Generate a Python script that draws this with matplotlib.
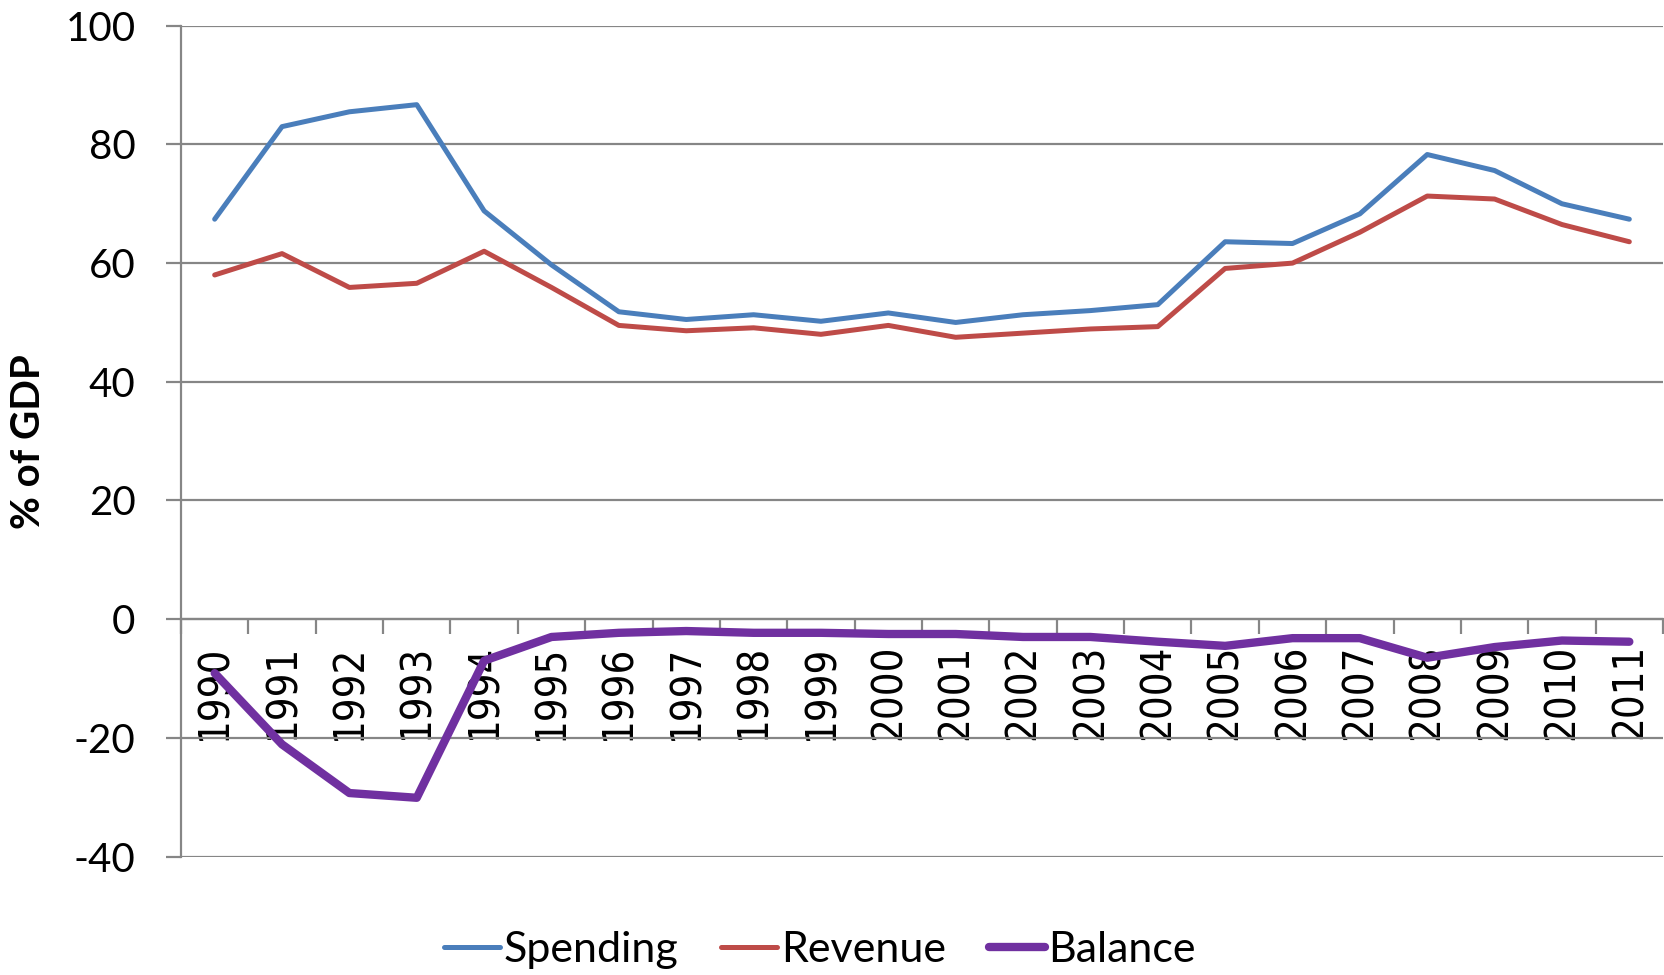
import numpy as np
import matplotlib
matplotlib.use("Agg")
import matplotlib.pyplot as plt

# values (% of GDP)
years = [str(y) for y in range(1990, 2012)]
spending = [67.4, 83.0, 85.5, 86.7, 68.8, 59.7, 51.8, 50.5, 51.3, 50.2, 51.6,
            50.0, 51.3, 52.0, 53.0, 63.6, 63.3, 68.3, 78.3, 75.6, 70.0, 67.4]
revenue = [58.0, 61.6, 55.9, 56.6, 62.0, 55.9, 49.5, 48.6, 49.1, 48.0, 49.5,
           47.5, 48.2, 48.9, 49.3, 59.1, 60.0, 65.2, 71.3, 70.8, 66.5, 63.6]
balance = [-9.1, -21.1, -29.3, -30.1, -7.0, -3.0, -2.3, -2.0, -2.3, -2.3, -2.5,
           -2.5, -3.0, -3.0, -3.8, -4.5, -3.2, -3.2, -6.5, -4.7, -3.6, -3.8]
yticks = [-40, -20, 0, 20, 40, 60, 80, 100]

grid_col = '#868686'
px = 72 / 100.0  # one pixel in points at dpi 100
glw = 2.2 * px

fig = plt.figure(figsize=(16.65, 9.75), dpi=100)
ax = fig.add_axes([0.1087, 0.1215, 0.8901, 0.8521])

x = np.arange(len(years))
kw = dict(solid_capstyle='round', solid_joinstyle='round')
ax.plot(x, spending, color='#4A7EBB', lw=3.6, label='Spending', **kw)
ax.plot(x, revenue, color='#BE4B48', lw=3.6, label='Revenue', **kw)
ax.plot(x, balance, color='#7030A0', lw=6.0, label='Balance', **kw)

ax.set_xlim(-0.5, len(years) - 0.5)
ax.set_ylim(-40, 100)
ax.set_yticks(yticks)
ax.set_yticklabels([str(v) for v in yticks], fontfamily='Lato', fontsize=29)
ax.yaxis.grid(True, color=grid_col, lw=glw)
ax.set_axisbelow(True)
ax.tick_params(axis='y', length=15 * px, width=glw, color=grid_col, pad=22)

# category axis crossing at zero, ticks between categories
ax.spines['bottom'].set_position(('data', 0))
for side in ('bottom', 'left'):
    ax.spines[side].set_color(grid_col)
    ax.spines[side].set_linewidth(glw)
ax.spines['top'].set_visible(False)
ax.spines['right'].set_visible(False)

ax.set_xticks(np.arange(-0.5, len(years), 1.0))
ax.set_xticklabels([])
ax.tick_params(axis='x', which='major', length=15 * px, width=glw,
               color=grid_col)
ax.set_xticks(x, minor=True)
ax.set_xticklabels(years, minor=True, rotation=90, fontsize=30,
                   fontfamily='DejaVu Sans', fontstretch='condensed')
ax.tick_params(axis='x', which='minor', length=0, pad=18)

ax.set_ylabel('% of GDP', fontfamily='Lato', fontweight='bold', fontsize=29,
              labelpad=13)

fig.legend(loc='center', bbox_to_anchor=(0.4925, 0.026), ncol=3, frameon=False,
           prop={'family': 'Lato', 'size': 31}, handlelength=1.3,
           handletextpad=0.08, columnspacing=1.0)

fig.savefig('out.png', dpi=100)
